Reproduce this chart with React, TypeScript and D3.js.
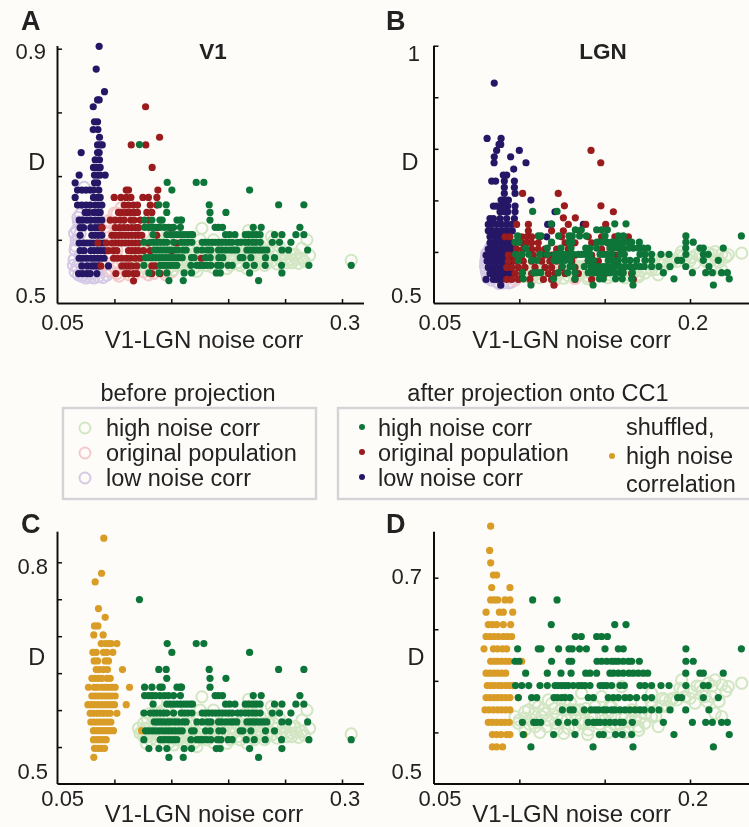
import { useEffect, useRef } from "react";
import * as d3 from "d3";

type Row = [number, number[]];
type Pt = [number, number];

// after projection, high noise corr, V1 (panels A and C)
const greenV1: Row[] = [
  [0.7495, [0.122]],
  [0.69, [0.1464, 0.1719, 0.1786]],
  [0.678, [0.1505, 0.2188]],
  [0.655, [0.139, 0.1455, 0.1833, 0.2443, 0.2665]],
  [0.643, [0.146, 0.184, 0.198]],
  [0.631, [0.1265, 0.133, 0.14, 0.142, 0.155, 0.158, 0.159, 0.184]],
  [0.6196, [0.1265, 0.13, 0.133, 0.136, 0.14, 0.144, 0.1475, 0.152, 0.158, 0.1885, 0.1915, 0.195, 0.222, 0.229, 0.263]],
  [0.608, [0.134, 0.146, 0.149, 0.152, 0.155, 0.158, 0.161, 0.1637, 0.1666, 0.1687, 0.1977, 0.2012, 0.2059, 0.215, 0.218, 0.2214, 0.2246, 0.228, 0.2407, 0.2472, 0.2595, 0.2665]],
  [0.596, [0.1259, 0.1315, 0.1344, 0.1373, 0.1402, 0.1432, 0.1461, 0.152, 0.1587, 0.1616, 0.1646, 0.1681, 0.1772, 0.1801, 0.183, 0.186, 0.1889, 0.1918, 0.1947, 0.1977, 0.2006, 0.2035, 0.2082, 0.2112, 0.215, 0.2179, 0.2214, 0.2243, 0.2281, 0.2387, 0.2451, 0.2551]],
  [0.584, [0.135, 0.1379, 0.1408, 0.1438, 0.1467, 0.1496, 0.1531, 0.1561, 0.1602, 0.1631, 0.1725, 0.1772, 0.1819, 0.1848, 0.1915, 0.1944, 0.198, 0.2018, 0.2047, 0.2076, 0.2164, 0.2194, 0.2223, 0.2252, 0.2281, 0.2311, 0.234, 0.2472, 0.253, 0.2698]],
  [0.572, [0.1274, 0.1303, 0.1332, 0.1361, 0.1391, 0.142, 0.1449, 0.1479, 0.1508, 0.1537, 0.1567, 0.1596, 0.1678, 0.1701, 0.1801, 0.1842, 0.1918, 0.1953, 0.2106, 0.2129, 0.2199, 0.2328, 0.2407]],
  [0.56, [0.1259, 0.1402, 0.1432, 0.1461, 0.149, 0.152, 0.1549, 0.1672, 0.1725, 0.1754, 0.1783, 0.1813, 0.1848, 0.1906, 0.1936, 0.2, 0.2035, 0.2158, 0.2229, 0.2325, 0.2469, 0.2709, 0.3081]],
  [0.548, [0.1303, 0.1391, 0.1461, 0.1613, 0.1678, 0.1895, 0.193, 0.2188, 0.2472]],
  [0.536, [0.1479, 0.1605, 0.2267]],
];

// before projection, high noise corr, V1
const paleV1: Pt[] = [
  [0.3081, 0.5677], [0.1769, 0.618], [0.2179, 0.6146], [0.2692, 0.6], [0.2648, 0.5866], [0.2715, 0.5754], [0.2589, 0.5776], [0.2648, 0.571],
  [0.256, 0.564], [0.2618, 0.563], [0.2487, 0.5776], [0.2451, 0.589], [0.2399, 0.598], [0.2223, 0.5957], [0.2311, 0.582], [0.2252, 0.573],
  [0.2164, 0.555], [0.1988, 0.555], [0.1871, 0.6], [0.1754, 0.6], [0.1725, 0.5505], [0.152, 0.5528], [0.1373, 0.6115], [0.1315, 0.5957],
  [0.1212, 0.5754], [0.1256, 0.564], [0.1315, 0.5776], [0.1373, 0.5596], [0.1432, 0.571], [0.149, 0.582], [0.1549, 0.5596], [0.1608, 0.5754],
  [0.1666, 0.582], [0.1725, 0.564], [0.1783, 0.573], [0.1842, 0.58], [0.1901, 0.564], [0.1959, 0.5776], [0.2018, 0.5686], [0.2076, 0.582],
  [0.2135, 0.571], [0.2194, 0.582], [0.2252, 0.564], [0.234, 0.5754], [0.2399, 0.582], [0.2457, 0.5686], [0.2516, 0.564], [0.2545, 0.5776],
  [0.1315, 0.5596], [0.1285, 0.5686], [0.1461, 0.5596], [0.1344, 0.584], [0.1402, 0.5957], [0.1461, 0.589], [0.152, 0.5776], [0.1578, 0.591],
  [0.1637, 0.5686], [0.1695, 0.555], [0.1754, 0.5776], [0.1813, 0.5596], [0.1871, 0.571], [0.193, 0.582], [0.1988, 0.5866], [0.2047, 0.5686],
  [0.2106, 0.5596], [0.2223, 0.582], [0.2281, 0.591], [0.234, 0.564], [0.1256, 0.582], [0.1241, 0.571], [0.128, 0.555], [0.1402, 0.5776],
  [0.149, 0.564], [0.1578, 0.564], [0.1666, 0.5596],
  [0.1225, 0.5686], [0.127, 0.5754], [0.13, 0.564], [0.133, 0.57], [0.136, 0.58], [0.139, 0.564], [0.142, 0.576], [0.145, 0.566],
  [0.148, 0.556], [0.151, 0.569], [0.154, 0.578], [0.157, 0.56], [0.16, 0.569], [0.163, 0.579], [0.166, 0.565], [0.169, 0.572],
  [0.172, 0.558], [0.175, 0.568], [0.178, 0.581], [0.181, 0.564], [0.184, 0.573], [0.187, 0.556], [0.19, 0.575], [0.193, 0.564],
  [0.196, 0.57], [0.199, 0.579], [0.202, 0.56], [0.205, 0.576], [0.208, 0.564], [0.211, 0.573], [0.214, 0.58], [0.217, 0.564],
  [0.22, 0.572], [0.223, 0.56], [0.226, 0.578], [0.229, 0.568], [0.232, 0.56], [0.235, 0.583], [0.238, 0.566], [0.242, 0.575],
  [0.25, 0.57], [0.255, 0.569], [0.26, 0.57], [0.267, 0.566], [0.243, 0.562], [0.129, 0.588], [0.135, 0.593], [0.145, 0.6],
  [0.155, 0.598], [0.165, 0.592], [0.175, 0.59], [0.185, 0.588], [0.195, 0.592], [0.205, 0.59], [0.215, 0.595], [0.225, 0.605],
  [0.218, 0.605], [0.238, 0.605],
];

const blueV1: Row[] = [
  [0.9037, [0.0866]],
  [0.868, [0.084]],
  [0.8325, [0.0913]],
  [0.8196, [0.0866, 0.0852]],
  [0.8089, [0.0814]],
  [0.7853, [0.0825, 0.0852]],
  [0.773, [0.0814, 0.0855]],
  [0.761, [0.0869]],
  [0.749, [0.0852, 0.0875, 0.0893]],
  [0.737, [0.0708, 0.0852, 0.0866]],
  [0.7257, [0.0831, 0.0869]],
  [0.7136, [0.0816, 0.0846, 0.0875]],
  [0.7016, [0.069, 0.0825, 0.0852, 0.0875, 0.0919]],
  [0.6895, [0.0655, 0.0825, 0.0852]],
  [0.678, [0.0676, 0.0714, 0.0752, 0.0787, 0.0816, 0.0863]],
  [0.6665, [0.0655, 0.0816, 0.0852, 0.0875]],
  [0.6545, [0.0676, 0.0714, 0.0752, 0.0787, 0.0831, 0.086, 0.089]],
  [0.643, [0.0743, 0.0772, 0.0816, 0.0852, 0.0875]],
  [0.631, [0.069, 0.072, 0.0758, 0.0793, 0.0831, 0.086, 0.089]],
  [0.619, [0.0699, 0.0729, 0.0793, 0.0831, 0.086, 0.089]],
  [0.607, [0.0699, 0.0802, 0.0831, 0.086, 0.089]],
  [0.595, [0.069, 0.0729, 0.0758, 0.0787, 0.0816, 0.0846, 0.0875, 0.0904]],
  [0.583, [0.0699, 0.0734, 0.0793, 0.0822, 0.0852, 0.0881, 0.091]],
  [0.571, [0.069, 0.072, 0.0758, 0.0793, 0.0822, 0.0852, 0.0881, 0.091]],
  [0.559, [0.0714, 0.0764, 0.0802, 0.0831, 0.086, 0.0948]],
  [0.547, [0.0685, 0.072, 0.0758, 0.0787, 0.0846]],
];

const redV1: Row[] = [
  [0.8089, [0.1274]],
  [0.761, [0.1397]],
  [0.749, [0.1148, 0.1276]],
  [0.7136, [0.1332]],
  [0.678, [0.1104, 0.1124, 0.1382]],
  [0.6665, [0.0998, 0.1057, 0.1104, 0.1145, 0.125, 0.1299, 0.1373]],
  [0.6545, [0.1086, 0.1124, 0.1168, 0.1203, 0.1315, 0.1373]],
  [0.643, [0.1036, 0.1065, 0.1104, 0.1139, 0.1174, 0.1203, 0.1285, 0.1329]],
  [0.631, [0.0963, 0.1007, 0.1051, 0.1086, 0.1145, 0.1174, 0.1227, 0.13]],
  [0.619, [0.089, 0.1007, 0.1045, 0.108, 0.1115, 0.1153, 0.1189, 0.1212, 0.1373, 0.1505]],
  [0.607, [0.0978, 0.1007, 0.1036, 0.1065, 0.1095, 0.1124, 0.1153, 0.1183, 0.1212, 0.1241, 0.1373]],
  [0.595, [0.0855, 0.0928, 0.0978, 0.1007, 0.1036, 0.1065, 0.1095, 0.1124, 0.1153, 0.1183, 0.1212, 0.13, 0.1549]],
  [0.583, [0.0948, 0.0992, 0.1022, 0.1124, 0.1153, 0.1183, 0.1212, 0.1256, 0.1315, 0.1505]],
  [0.571, [0.0992, 0.1027, 0.1065, 0.1104, 0.1139, 0.1183, 0.1227, 0.1763]],
  [0.559, [0.0881, 0.1065, 0.1095, 0.1124, 0.1153, 0.1197, 0.1329, 0.1358]],
  [0.547, [0.1013, 0.1095, 0.1124, 0.1168, 0.1197, 0.1329, 0.1402]],
  [0.5356, [0.1168]],
];

const pinkV1: Pt[] = [
  [0.1022, 0.6414], [0.0948, 0.6283], [0.0934, 0.61], [0.0934, 0.589], [0.0963, 0.5707], [0.0963, 0.5524], [0.1022, 0.5471], [0.1095, 0.5524],
  [0.1168, 0.5445], [0.1256, 0.5497], [0.1344, 0.5471], [0.1432, 0.5497], [0.1505, 0.5497], [0.1007, 0.61], [0.1022, 0.5838], [0.1168, 0.5681],
  [0.108, 0.6361], [0.1256, 0.61], [0.1344, 0.5733], [0.095, 0.63], [0.092, 0.62], [0.099, 0.6], [0.096, 0.58], [0.098, 0.56],
  [0.104, 0.543], [0.1, 0.642], [0.106, 0.65], [0.11, 0.645], [0.113, 0.545], [0.13, 0.545], [0.145, 0.545],
];

const lilacV1: Pt[] = [
  [0.0734, 0.6822], [0.0685, 0.6283], [0.067, 0.6152], [0.0664, 0.5995], [0.0655, 0.5838], [0.0646, 0.5691], [0.0655, 0.5497], [0.0714, 0.5426],
  [0.0787, 0.5416], [0.086, 0.5423], [0.0934, 0.5445], [0.0699, 0.5628], [0.0758, 0.5497], [0.0699, 0.61], [0.0743, 0.589], [0.0875, 0.5524],
  [0.0729, 0.5449], [0.0802, 0.5471], [0.0729, 0.6257], [0.068, 0.6], [0.07, 0.575], [0.067, 0.558], [0.0685, 0.545], [0.075, 0.54],
  [0.082, 0.54], [0.09, 0.541], [0.095, 0.55], [0.075, 0.63], [0.07, 0.64], [0.066, 0.59], [0.064, 0.56], [0.072, 0.55],
  [0.078, 0.56], [0.083, 0.55], [0.09, 0.56], [0.068, 0.635], [0.065, 0.61],
];

// LGN (panels B and D)
const greenLGN: Row[] = [
  [0.6785, [0.1078, 0.1221]],
  [0.6546, [0.1187, 0.1559, 0.1625]],
  [0.643, [0.1328, 0.1363, 0.1453, 0.1482, 0.1516]],
  [0.631, [0.099, 0.1111, 0.1127, 0.123, 0.1291, 0.131, 0.1353, 0.1393, 0.1502, 0.158, 0.1609, 0.1976, 0.2301]],
  [0.619, [0.0975, 0.0998, 0.1189, 0.1291, 0.1307, 0.1455, 0.1482, 0.1512, 0.1541, 0.156, 0.158, 0.1609, 0.1639, 0.1658, 0.1703, 0.1976, 0.2019]],
  [0.6074, [0.1037, 0.1164, 0.1244, 0.1303, 0.1389, 0.1414, 0.1453, 0.1531, 0.1551, 0.158, 0.1609, 0.1642, 0.1668, 0.1697, 0.1726, 0.1752, 0.1975, 0.2058, 0.2078, 0.2195]],
  [0.5954, [0.0978, 0.1014, 0.1055, 0.1121, 0.1164, 0.1209, 0.1228, 0.1248, 0.1268, 0.1287, 0.1316, 0.1346, 0.1365, 0.1385, 0.1414, 0.1473, 0.1492, 0.1512, 0.1541, 0.159, 0.1615, 0.1707, 0.1736, 0.1775, 0.183, 0.1877, 0.1976, 0.2078, 0.2107]],
  [0.5838, [0.0994, 0.1072, 0.1102, 0.1203, 0.1223, 0.1248, 0.1268, 0.1297, 0.1404, 0.1434, 0.1521, 0.1551, 0.158, 0.1619, 0.1648, 0.1687, 0.1736, 0.1775, 0.1928, 0.1951, 0.2078, 0.2166]],
  [0.5718, [0.1252, 0.1297, 0.1316, 0.1381, 0.142, 0.1443, 0.1463, 0.1492, 0.1512, 0.1541, 0.156, 0.159, 0.1619, 0.1648, 0.1678, 0.1707, 0.1732, 0.1775, 0.1818, 0.1883, 0.1975, 0.2111]],
  [0.5598, [0.1018, 0.1084, 0.1102, 0.1125, 0.1228, 0.1283, 0.1326, 0.1404, 0.1434, 0.1453, 0.1473, 0.1502, 0.1531, 0.156, 0.159, 0.1609, 0.1662, 0.1844, 0.2014, 0.2092, 0.2131, 0.2185, 0.2219]],
  [0.5479, [0.1023, 0.1201, 0.1326, 0.1469, 0.1492, 0.1564, 0.1603, 0.1658, 0.1906, 0.223]],
  [0.5359, [0.1068, 0.1432, 0.1666, 0.2137]],
];

const paleLGN: Pt[] = [
  [0.2303, 0.5977], [0.2225, 0.5944], [0.2186, 0.5961], [0.2147, 0.6009], [0.2107, 0.5977], [0.2058, 0.5944], [0.2009, 0.5896], [0.197, 0.5847],
  [0.1922, 0.5815], [0.1941, 0.5928], [0.1883, 0.5815], [0.1834, 0.575], [0.1775, 0.5653], [0.1736, 0.5589], [0.1697, 0.5556], [0.1639, 0.5556],
  [0.16, 0.5653], [0.156, 0.5572], [0.1521, 0.5686], [0.1482, 0.5653], [0.1443, 0.575], [0.1404, 0.5524], [0.1365, 0.5589], [0.1326, 0.5718],
  [0.1287, 0.554], [0.1248, 0.5621], [0.1209, 0.5734], [0.117, 0.5815], [0.1131, 0.5653], [0.1111, 0.575], [0.1072, 0.5621], [0.1033, 0.5702],
  [0.0994, 0.5589], [0.0975, 0.5653], [0.1033, 0.5524], [0.1092, 0.5556], [0.115, 0.5686], [0.1209, 0.5589], [0.1268, 0.5815], [0.1326, 0.5556],
  [0.1365, 0.588], [0.1424, 0.5653], [0.1482, 0.5847], [0.1541, 0.575], [0.16, 0.5944], [0.1658, 0.5718], [0.1717, 0.5783], [0.1775, 0.575],
  [0.1814, 0.5556], [0.1853, 0.5815], [0.1951, 0.6009], [0.2029, 0.5783], [0.2088, 0.5847], [0.2147, 0.5686], [0.2186, 0.5653], [0.2127, 0.5847],
  [0.1678, 0.5621], [0.1307, 0.5718], [0.116, 0.5556], [0.1775, 0.588], [0.1531, 0.5556], [0.1355, 0.5718], [0.1092, 0.5783], [0.1219, 0.5524],
  [0.1053, 0.5718],
  [0.1, 0.562], [0.103, 0.564], [0.106, 0.558], [0.109, 0.569], [0.111, 0.56], [0.114, 0.572], [0.117, 0.562], [0.119, 0.578],
  [0.122, 0.566], [0.125, 0.573], [0.128, 0.562], [0.13, 0.579], [0.133, 0.565], [0.136, 0.562], [0.139, 0.573], [0.141, 0.56],
  [0.144, 0.566], [0.147, 0.558], [0.15, 0.562], [0.153, 0.575], [0.156, 0.564], [0.159, 0.558], [0.162, 0.564], [0.165, 0.561],
  [0.168, 0.57], [0.171, 0.564], [0.174, 0.568], [0.177, 0.58], [0.18, 0.566], [0.184, 0.583], [0.187, 0.575], [0.19, 0.583],
  [0.196, 0.591], [0.2, 0.583], [0.204, 0.595], [0.207, 0.59], [0.21, 0.58], [0.217, 0.58], [0.221, 0.59], [0.213, 0.595],
  [0.112, 0.55], [0.126, 0.549], [0.14, 0.548], [0.152, 0.55], [0.162, 0.55], [0.17, 0.552],
];

const blueLGN: Row[] = [
  [0.9276, [0.0853]],
  [0.8202, [0.0811, 0.0893]],
  [0.8085, [0.0881, 0.0891]],
  [0.7969, [0.0867, 0.1]],
  [0.7846, [0.0853, 0.0949]],
  [0.773, [0.0852, 0.1039]],
  [0.7607, [0.0967]],
  [0.749, [0.0906, 0.0926]],
  [0.7374, [0.0838, 0.0861, 0.0912, 0.0971]],
  [0.7251, [0.0912, 0.0971]],
  [0.7135, [0.0912, 0.0975]],
  [0.7005, [0.0893, 0.0916, 0.0936, 0.1068]],
  [0.6889, [0.0848, 0.0867, 0.0893, 0.0912, 0.0932, 0.0975]],
  [0.6779, [0.0887, 0.0912, 0.0932, 0.0975, 0.1209]],
  [0.6649, [0.0828, 0.0848, 0.0887, 0.0926, 0.0971]],
  [0.6533, [0.0818, 0.0838, 0.0867, 0.0896, 0.0926, 0.0955, 0.1166, 0.1189, 0.1375]],
  [0.641, [0.0818, 0.0842, 0.0867, 0.0893, 0.0916, 0.0939, 0.0959]],
  [0.6294, [0.0828, 0.0857, 0.0881, 0.0906, 0.0936, 0.116]],
  [0.6177, [0.0828, 0.0848, 0.0867, 0.0893, 0.0916, 0.0939, 0.0955]],
  [0.6054, [0.0818, 0.0842, 0.0867, 0.0891, 0.0912, 0.0936, 0.0955]],
  [0.5938, [0.0805, 0.0828, 0.0853, 0.0881, 0.0906, 0.0932, 0.0955]],
  [0.5821, [0.0811, 0.0838, 0.0861, 0.0887, 0.0912, 0.0936, 0.0955]],
  [0.5699, [0.0818, 0.0842, 0.0867, 0.0893, 0.0916, 0.0939]],
  [0.5582, [0.0828, 0.0852, 0.0881, 0.0906, 0.0932, 0.0955]],
  [0.5466, [0.0805, 0.0848, 0.0867, 0.0893]],
  [0.5356, [0.0891]],
];

const redLGN: Row[] = [
  [0.7969, [0.142]],
  [0.773, [0.1477]],
  [0.7135, [0.1019, 0.1228]],
  [0.6895, [0.1264, 0.1478]],
  [0.6779, [0.1551]],
  [0.6662, [0.1258, 0.1328]],
  [0.6533, [0.0984, 0.1053, 0.1287, 0.1389, 0.1506]],
  [0.641, [0.1053, 0.1189, 0.1258, 0.1354]],
  [0.6294, [0.0916, 0.0945, 0.1014, 0.1043, 0.1072, 0.1121, 0.1248, 0.1307, 0.1404, 0.1482, 0.156, 0.1609, 0.1639]],
  [0.6177, [0.0975, 0.1014, 0.1043, 0.1072, 0.1111, 0.1189, 0.1268, 0.1326, 0.1424, 0.1521]],
  [0.6054, [0.0984, 0.1023, 0.1072, 0.1111, 0.115, 0.1219, 0.1287, 0.1404, 0.1482]],
  [0.5938, [0.0936, 0.0965, 0.1014, 0.1082, 0.115, 0.1189, 0.1268, 0.1326, 0.1424, 0.156]],
  [0.5821, [0.0936, 0.0975, 0.1023, 0.1072, 0.1131, 0.1179, 0.1219, 0.1307, 0.1404, 0.1463, 0.156]],
  [0.5699, [0.0926, 0.0955, 0.0994, 0.1033, 0.1092, 0.115, 0.1189, 0.1248, 0.1326, 0.1424, 0.1521]],
  [0.5582, [0.0975, 0.1014, 0.1072, 0.117, 0.1209, 0.1268, 0.1346, 0.1502, 0.1658]],
  [0.5466, [0.0926, 0.0955, 0.0994, 0.1062, 0.1141, 0.1189, 0.1326, 0.1424, 0.1668]],
  [0.5356, [0.1203]],
];

const pinkLGN: Pt[] = [
  [0.0975, 0.5453], [0.1072, 0.5485], [0.1209, 0.5453], [0.1326, 0.5485], [0.1482, 0.6067],
];

const lilacLGN: Pt[] = [
  [0.0809, 0.597], [0.0805, 0.5841], [0.0802, 0.5712], [0.0812, 0.555], [0.0838, 0.5453], [0.0906, 0.5401], [0.0955, 0.542], [0.0828, 0.6067],
  [0.0812, 0.5776], [0.0828, 0.5615], [0.0808, 0.59], [0.0803, 0.578], [0.0806, 0.563], [0.0815, 0.55], [0.087, 0.542], [0.094, 0.54],
  [0.082, 0.6], [0.0806, 0.57], [0.085, 0.55], [0.088, 0.539],
];

// shuffled
const orangeC: Row[] = [
  [0.8326, [0.0907]],
  [0.7852, [0.0887]],
  [0.7735, [0.0831]],
  [0.7374, [0.086]],
  [0.7256, [0.0919]],
  [0.7139, [0.0825, 0.0855]],
  [0.7017, [0.0819, 0.0901]],
  [0.69, [0.0884, 0.0919, 0.0948, 0.0972, 0.1022]],
  [0.6782, [0.0811, 0.084, 0.0904, 0.0934, 0.0986]],
  [0.6665, [0.0822, 0.0852, 0.0919, 0.0948]],
  [0.6548, [0.084, 0.0869, 0.0904, 0.0939, 0.1071]],
  [0.643, [0.0802, 0.0831, 0.086, 0.089, 0.0934, 0.0963]],
  [0.6309, [0.0772, 0.0822, 0.0852, 0.089, 0.0919, 0.0948, 0.0978, 0.1007, 0.1133]],
  [0.6191, [0.0802, 0.0831, 0.086, 0.089, 0.0919, 0.0948, 0.0978, 0.1007]],
  [0.6074, [0.0767, 0.0796, 0.0825, 0.0855, 0.0884, 0.0913, 0.0942, 0.0972, 0.1001, 0.1104]],
  [0.5957, [0.0787, 0.0816, 0.0846, 0.0875, 0.0904, 0.0934, 0.0963, 0.1022]],
  [0.5839, [0.0793, 0.0822, 0.0852, 0.0881, 0.091, 0.094, 0.0969]],
  [0.5722, [0.0816, 0.0846, 0.0875, 0.0904, 0.0934, 0.0963, 0.0992, 0.1238]],
  [0.56, [0.0816, 0.0846, 0.0875, 0.0904, 0.0928]],
  [0.5483, [0.0825, 0.0855, 0.0884, 0.0913]],
  [0.5361, [0.0819]],
];

const orangeD: Row[] = [
  [0.75, [0.0832]],
  [0.7264, [0.0826]],
  [0.7144, [0.0832]],
  [0.7025, [0.0848, 0.0867]],
  [0.6905, [0.0838, 0.0945]],
  [0.6785, [0.0832, 0.0853, 0.0873, 0.0916, 0.0945]],
  [0.6666, [0.0805, 0.0883, 0.0906, 0.0961]],
  [0.6546, [0.0818, 0.0842, 0.0867, 0.0906, 0.0949]],
  [0.643, [0.0805, 0.0828, 0.0852, 0.0877, 0.0906, 0.093, 0.0955]],
  [0.631, [0.0793, 0.0848, 0.0873, 0.0902, 0.0926]],
  [0.619, [0.0832, 0.0853, 0.0873, 0.0896, 0.092, 0.0941, 0.1014]],
  [0.6074, [0.0805, 0.0828, 0.0852, 0.0873, 0.0896, 0.092]],
  [0.5954, [0.0812, 0.0832, 0.0853, 0.0877, 0.0896, 0.092, 0.0941, 0.0961]],
  [0.5838, [0.0805, 0.0828, 0.0852, 0.0873, 0.0896, 0.092, 0.0945, 0.0994]],
  [0.5718, [0.0799, 0.0822, 0.0848, 0.0873, 0.0896, 0.092, 0.0945]],
  [0.5598, [0.0818, 0.0842, 0.0867, 0.0893, 0.0916, 0.0941]],
  [0.5479, [0.0842, 0.0867, 0.0893, 0.0926, 0.0945, 0.1027]],
  [0.5359, [0.0842, 0.0867, 0.0902]],
];

const GREEN = "#0b7439";
const RED = "#9a1a1c";
const BLUE = "#271766";
const ORANGE = "#d99c26";
const PALE = "#d2e6c3";
const PINK = "#f5c9c9";
const LILAC = "#d5c9e5";
const FONT = "'Liberation Sans', Arial, sans-serif";
const TEXT_SIZE = 23.5;
const TICK_SIZE = 22;

const panels = [
  {
    letter: "A", title: "V1", left: 57.5, bottom: 303.5, top: 46, right: 364,
    xDomain: [0.05, 0.3], xRange: [57.5, 342], yDomain: [0.5, 0.9], yRange: [303.5, 48.7],
    xTicks: [0.1, 0.15, 0.2, 0.25, 0.3], yTicks: [0.6, 0.7, 0.8, 0.9],
    xLabels: ["0.05", "0.3"], yLabels: ["0.5", "0.9"], yEnds: [46, 46], yBases: [303, 59], dLabel: [36.7, 170],
    circles: [[lilacV1, LILAC], [pinkV1, PINK], [paleV1, PALE]],
    dots: [[blueV1, BLUE], [redV1, RED], [greenV1, GREEN]],
  },
  {
    letter: "B", title: "LGN", left: 434, bottom: 303.5, top: 45.7, right: 749,
    xDomain: [0.05, 0.2], xRange: [434, 690], yDomain: [0.5, 1], yRange: [303.5, 45.7],
    xTicks: [0.1, 0.15, 0.2], yTicks: [0.6, 0.7, 0.8, 0.9, 1],
    xLabels: ["0.05", "0.2"], yLabels: ["0.5", "1"], yEnds: [421.7, 420], yBases: [303, 61], dLabel: [410, 170],
    circles: [[lilacLGN, LILAC], [pinkLGN, PINK], [paleLGN, PALE]],
    dots: [[blueLGN, BLUE], [redLGN, RED], [greenLGN, GREEN]],
  },
  {
    letter: "C", title: "", left: 57.5, bottom: 784, top: 531.7, right: 364,
    xDomain: [0.05, 0.3], xRange: [57.5, 342], yDomain: [0.5, 0.8], yRange: [784, 562.3],
    xTicks: [0.1, 0.15, 0.2, 0.25, 0.3], yTicks: [0.55, 0.6, 0.65, 0.7, 0.75, 0.8],
    xLabels: ["0.05", "0.3"], yLabels: ["0.5", "0.8"], yEnds: [48, 48], yBases: [778.5, 574], dLabel: [36.7, 665],
    circles: [[paleV1, PALE]],
    dots: [[orangeC, ORANGE], [greenV1, GREEN]],
  },
  {
    letter: "D", title: "", left: 434, bottom: 784, top: 531.7, right: 749,
    xDomain: [0.05, 0.2], xRange: [434, 690], yDomain: [0.5, 0.7], yRange: [784, 577.7],
    xTicks: [0.1, 0.15, 0.2], yTicks: [0.55, 0.6, 0.65, 0.7],
    xLabels: ["0.05", "0.2"], yLabels: ["0.5", "0.7"], yEnds: [422, 422], yBases: [778.5, 584], dLabel: [416, 665],
    circles: [[paleLGN, PALE]],
    dots: [[orangeD, ORANGE], [greenLGN, GREEN]],
  },
];

const legendBefore = [["high noise corr", PALE], ["original population", PINK], ["low noise corr", LILAC]];
const legendAfter = [["high noise corr", GREEN], ["original population", RED], ["low noise corr", BLUE]];
const legendShuffled = ["shuffled,", "high noise", "correlation"];

export default function App() {
  const svgRef = useRef<SVGSVGElement>(null);

  useEffect(() => {
    const svg = d3.select(svgRef.current);
    svg.selectAll("*").remove();

    svg.append("rect").attr("width", 749).attr("height", 827).attr("fill", "#fdfcf9");
    svg.append("defs").append("filter").attr("id", "soft")
      .append("feGaussianBlur").attr("stdDeviation", 0.4);
    const root = svg.append("g").attr("filter", "url(#soft)");

    const label = (x: number, y: number, s: string, size = TEXT_SIZE, anchor = "middle", weight = "normal") =>
      root.append("text").attr("x", x).attr("y", y).attr("text-anchor", anchor)
        .attr("font-family", FONT).attr("font-size", size).attr("font-weight", weight)
        .attr("fill", "#222").text(s);

    panels.forEach((p) => {
      const x = d3.scaleLinear().domain(p.xDomain).range(p.xRange);
      const y = d3.scaleLinear().domain(p.yDomain).range(p.yRange);
      const g = root.append("g");

      (p.circles as [Pt[], string][]).forEach(([pts, color]) => {
        g.append("g").selectAll("circle").data(pts).join("circle")
          .attr("cx", (d) => x(d[0])).attr("cy", (d) => y(d[1]))
          .attr("r", 5.6).attr("fill", "none").attr("stroke", color).attr("stroke-width", 2);
      });

      (p.dots as [Row[], string][]).forEach(([rows, color]) => {
        const pts = rows.flatMap(([v, xs]) => xs.map((u) => [u, v]));
        g.append("g").selectAll("circle").data(pts).join("circle")
          .attr("cx", (d) => x(d[0])).attr("cy", (d) => y(d[1]))
          .attr("r", 3.6).attr("fill", color);
      });

      const axisX = d3.axisBottom(x).tickValues(p.xTicks).tickSize(-4.5).tickSizeOuter(0).tickFormat(() => "");
      const axisY = d3.axisLeft(y).tickValues(p.yTicks).tickSize(-4.5).tickSizeOuter(0).tickFormat(() => "");
      const gx = g.append("g").attr("transform", `translate(0,${p.bottom})`).call(axisX);
      const gy = g.append("g").attr("transform", `translate(${p.left},0)`).call(axisY);
      gx.select(".domain").attr("d", `M${p.left},0H${p.right}`);
      gy.select(".domain").attr("d", `M0,${p.top}V${p.bottom}`);
      [gx, gy].forEach((a) => {
        a.select(".domain").attr("stroke", "#111").attr("stroke-width", 2);
        a.selectAll(".tick line").attr("stroke", "#111").attr("stroke-width", 1.5);
      });

      const upper = p.bottom < 400;
      const isRight = p.left > 400;
      const tickBase = upper ? 330 : 806;
      label(isRight ? 440 : 62.7, tickBase, p.xLabels[0], TICK_SIZE);
      label(x(+p.xLabels[1]) + 3, tickBase, p.xLabels[1], TICK_SIZE);
      label(isRight ? 571.7 : 204, upper ? 348 : 821.5, "V1-LGN noise corr", 24);
      label(p.yEnds[0], p.yBases[0], p.yLabels[0], TICK_SIZE, "end");
      label(p.yEnds[1], p.yBases[1], p.yLabels[1], TICK_SIZE, "end");
      label(p.dLabel[0], p.dLabel[1], "D");
      label(isRight ? 386 : 21, upper ? 30 : 533, p.letter, 27, "start", "bold");
      if (p.title) label(isRight ? 603 : 213, 59, p.title, 22.5, "middle", "bold");
    });

    // legend
    const boxes = [[63, 408, 253, 91], [338, 408, 420, 91]];
    boxes.forEach(([bx, by, bw, bh]) => {
      root.append("rect").attr("x", bx).attr("y", by).attr("width", bw).attr("height", bh)
        .attr("fill", "none").attr("stroke", "#d4d4d6").attr("stroke-width", 2.4);
    });
    label(188, 401, "before projection");
    label(538, 401, "after projection onto CC1");
    legendBefore.forEach(([s, color], i) => {
      root.append("circle").attr("cx", 85).attr("cy", 428 + i * 25).attr("r", 5.5)
        .attr("fill", "none").attr("stroke", color).attr("stroke-width", 2);
      label(106, 436 + i * 25, s, TEXT_SIZE, "start");
    });
    legendAfter.forEach(([s, color], i) => {
      root.append("circle").attr("cx", 362).attr("cy", 427 + i * 25).attr("r", 3).attr("fill", color);
      label(378, 436 + i * 25, s, TEXT_SIZE, "start");
    });
    root.append("circle").attr("cx", 612).attr("cy", 456).attr("r", 3).attr("fill", ORANGE);
    legendShuffled.forEach((s, i) => label(626, 435 + i * 28.5, s, TEXT_SIZE, "start"));
  }, []);

  return <svg ref={svgRef} width={749} height={827} style={{ position: "absolute", left: 0, top: 0, display: "block" }} />;
}
